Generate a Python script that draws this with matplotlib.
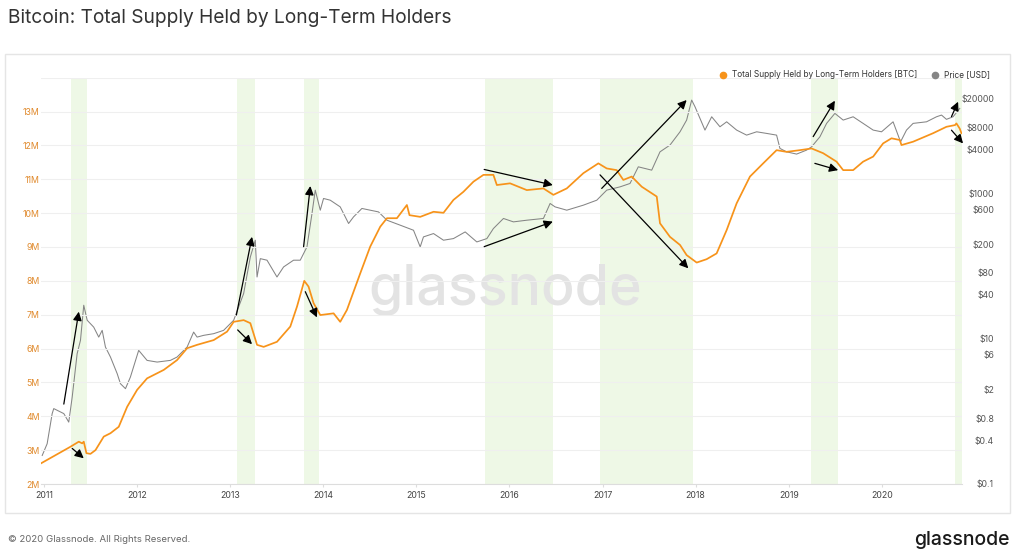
import matplotlib
matplotlib.use('Agg')
import matplotlib.pyplot as plt
from matplotlib.lines import Line2D
from matplotlib.patches import Rectangle
from matplotlib.ticker import NullLocator

plt.rcParams['font.family'] = ['Inter', 'DejaVu Sans']

# long-term holder supply (millions of BTC)
supply_year = [2010.97, 2011.286, 2011.376, 2011.412, 2011.429, 2011.458, 2011.501, 2011.555, 2011.644, 2011.716,
               2011.805, 2011.895, 2012.002, 2012.109, 2012.288, 2012.431, 2012.539, 2012.646, 2012.824, 2012.968,
               2013.039, 2013.146, 2013.218, 2013.290, 2013.361, 2013.504, 2013.647, 2013.719, 2013.797, 2013.843,
               2013.897, 2013.969, 2014.112, 2014.183, 2014.255, 2014.398, 2014.505, 2014.613, 2014.685, 2014.792,
               2014.899, 2014.927, 2015.042, 2015.185, 2015.292, 2015.399, 2015.506, 2015.614, 2015.721, 2015.828,
               2015.865, 2016.007, 2016.187, 2016.365, 2016.472, 2016.616, 2016.794, 2016.955, 2017.045, 2017.152,
               2017.223, 2017.313, 2017.421, 2017.582, 2017.617, 2017.724, 2017.832, 2017.903, 2018.011, 2018.118,
               2018.225, 2018.333, 2018.440, 2018.583, 2018.725, 2018.869, 2018.976, 2019.119, 2019.245, 2019.369,
               2019.513, 2019.584, 2019.691, 2019.798, 2019.906, 2020.013, 2020.103, 2020.192, 2020.210, 2020.335,
               2020.549, 2020.693, 2020.785, 2020.800, 2020.835, 2020.854]
supply_m = [2.61, 3.10, 3.25, 3.20, 3.25, 2.91, 2.89, 3.00, 3.40, 3.50,
            3.69, 4.28, 4.78, 5.12, 5.37, 5.66, 6.01, 6.11, 6.25, 6.50,
            6.79, 6.84, 6.75, 6.11, 6.05, 6.20, 6.65, 7.24, 8.00, 7.83,
            7.34, 6.99, 7.04, 6.79, 7.14, 8.22, 9.01, 9.60, 9.85, 9.85,
            10.24, 9.94, 9.89, 10.04, 10.01, 10.39, 10.63, 10.93, 11.13, 11.13,
            10.83, 10.88, 10.68, 10.73, 10.54, 10.73, 11.18, 11.47, 11.32, 11.27,
            10.98, 11.08, 10.78, 10.49, 9.70, 9.30, 9.06, 8.76, 8.54, 8.64,
            8.81, 9.50, 10.29, 11.08, 11.47, 11.86, 11.81, 11.86, 11.91, 11.77,
            11.52, 11.27, 11.27, 11.52, 11.67, 12.06, 12.21, 12.16, 12.01, 12.11,
            12.36, 12.55, 12.60, 12.65, 12.50, 12.36]

# BTC price (USD)
price_year = [2010.983, 2011.036, 2011.090, 2011.107, 2011.215, 2011.268, 2011.305, 2011.358, 2011.394, 2011.429,
              2011.466, 2011.536, 2011.590, 2011.627, 2011.662, 2011.716, 2011.788, 2011.823, 2011.877, 2011.930,
              2012.019, 2012.109, 2012.217, 2012.359, 2012.431, 2012.539, 2012.609, 2012.646, 2012.717, 2012.824,
              2012.931, 2013.039, 2013.146, 2013.218, 2013.271, 2013.290, 2013.325, 2013.397, 2013.504, 2013.575,
              2013.682, 2013.754, 2013.826, 2013.880, 2013.915, 2013.969, 2014.004, 2014.076, 2014.183, 2014.273,
              2014.326, 2014.416, 2014.505, 2014.594, 2014.685, 2014.827, 2014.970, 2015.042, 2015.077, 2015.185,
              2015.292, 2015.399, 2015.525, 2015.650, 2015.758, 2015.828, 2015.936, 2016.043, 2016.187, 2016.365,
              2016.437, 2016.490, 2016.616, 2016.794, 2016.938, 2017.045, 2017.188, 2017.295, 2017.384, 2017.528,
              2017.617, 2017.724, 2017.832, 2017.903, 2017.957, 2017.993, 2018.100, 2018.172, 2018.261, 2018.333,
              2018.440, 2018.547, 2018.655, 2018.762, 2018.869, 2018.905, 2018.976, 2019.084, 2019.191, 2019.245,
              2019.334, 2019.406, 2019.495, 2019.584, 2019.691, 2019.798, 2019.906, 2019.996, 2020.120, 2020.200,
              2020.264, 2020.335, 2020.479, 2020.586, 2020.640, 2020.693, 2020.764, 2020.836]
price_usd = [0.247, 0.358, 0.93, 1.09, 0.93, 0.71, 1.57, 6.2, 9.5, 28.8,
             17.9, 14.4, 10.5, 13.0, 7.66, 5.58, 3.30, 2.40, 2.05, 2.96,
             6.9, 5.02, 4.76, 5.02, 5.58, 7.66, 12.3, 10.5, 11.1, 11.7,
             13.0, 17.9, 41.7, 133, 226, 70.5, 126, 120, 70.5, 96.9,
             120, 120, 183, 527, 1104, 585, 848, 803, 650, 384,
             473, 618, 585, 554, 426, 364, 310, 183, 251, 279,
             226, 238, 294, 214, 238, 327, 450, 404, 426, 450,
             724, 650, 585, 686, 803, 1104, 1225, 1364, 2311, 2080,
             3715, 4600, 7010, 10160, 19150, 15490, 7400, 11280, 8220, 9620,
             7400, 6310, 7010, 6660, 6310, 4140, 3715, 3460, 3925, 4355,
             5980, 9150, 12560, 10160, 11280, 9150, 7400, 7010, 9620, 5105,
             7400, 9150, 9620, 11280, 11910, 10400, 11280, 14720]

# shaded periods (start year, end year)
band_start = [2011.29, 2013.07, 2013.79, 2015.74, 2016.97, 2019.24, 2020.78]
band_end = [2011.46, 2013.27, 2013.96, 2016.47, 2017.97, 2019.53, 2020.86]

# arrows (year, supply M) tail -> head
arrow_tail = [(2011.215, 4.36), (2011.305, 3.05), (2013.068, 6.99), (2013.082, 6.55),
              (2013.790, 9.01), (2013.808, 7.68), (2015.729, 11.29), (2015.729, 9.01),
              (2016.991, 10.73), (2016.973, 11.13), (2019.262, 12.26), (2019.280, 11.47),
              (2020.747, 12.85), (2020.747, 12.45)]
arrow_head = [(2011.376, 7.09), (2011.429, 2.76), (2013.236, 9.30), (2013.236, 6.13),
              (2013.862, 10.80), (2013.933, 6.92), (2016.466, 10.83), (2016.466, 9.75),
              (2017.903, 13.34), (2017.921, 8.37), (2019.495, 13.32), (2019.530, 11.27),
              (2020.818, 13.29), (2020.871, 12.06)]

supply_ticks = list(range(2, 15))
price_ticks = [0.1, 0.4, 0.8, 2, 6, 10, 40, 80, 200, 600, 1000, 4000, 8000, 20000]
price_labels = ['$0.1', '$0.4', '$0.8', '$2', '$6', '$10', '$40', '$80', '$200', '$600',
                '$1000', '$4000', '$8000', '$20000']
year_ticks = list(range(2011, 2021))

orange = '#f7931a'
grey = '#858585'

fig = plt.figure(figsize=(10.2, 5.57), dpi=100)
ax = fig.add_axes([41 / 1020, 1 - 484 / 557, (962 - 41) / 1020, (484 - 77.7) / 557])
ax2 = ax.twinx()
ax.set_zorder(2)
ax2.set_zorder(1)
ax.patch.set_visible(False)

for s, e in zip(band_start, band_end):
    ax2.axvspan(s, e, color='#eef8e6', lw=0, zorder=0)

ax2.text(0.504, 0.477, 'glassnode', transform=ax2.transAxes, ha='center', va='center',
         fontsize=40, color='#e3e3e3', fontweight='medium', zorder=0.5)

ax2.plot(price_year, price_usd, color=grey, lw=0.75, zorder=2)
ax2.set_yscale('log')
ax2.set_ylim(0.1, 10 ** 4.59)
ax2.yaxis.set_minor_locator(NullLocator())
ax2.set_yticks(price_ticks, price_labels, ha='right')
ax2.tick_params(axis='y', length=0, pad=23, labelsize=6.3, labelcolor='#555555')
for sp in ax2.spines.values():
    sp.set_visible(False)

ax.plot(supply_year, supply_m, color=orange, lw=1.25, zorder=3)
ax.set_ylim(2, 14)
ax.set_xlim(2010.97, 2020.86)
ax.set_yticks(supply_ticks, [f'{v}M' if v < 14 else '' for v in supply_ticks])
ax.tick_params(axis='y', length=0, pad=1, labelsize=6.3, labelcolor='#e0892b')
ax.set_xticks(year_ticks, [str(y) for y in year_ticks])
ax.tick_params(axis='x', length=2.5, color='#dddddd', pad=2.5, labelsize=6.3, labelcolor='#444444')
ax.yaxis.grid(True, color='#efefef', lw=0.8)
for name in ['top', 'right', 'left']:
    ax.spines[name].set_visible(False)
ax.spines['bottom'].set_color('#dddddd')

for tail, head in zip(arrow_tail, arrow_head):
    ax.annotate('', xy=head, xytext=tail, annotation_clip=False,
                arrowprops=dict(arrowstyle='-|>', color='black', lw=0.9,
                                mutation_scale=13, shrinkA=0, shrinkB=0))

handles = [Line2D([], [], marker='o', ls='', color=orange, markersize=4.5,
                  label='Total Supply Held by Long-Term Holders [BTC]'),
           Line2D([], [], marker='o', ls='', color=grey, markersize=4.5, label='Price [USD]')]
fig.legend(handles=handles, loc='center right', bbox_to_anchor=(994 / 1020, 1 - 75 / 557),
           ncol=2, frameon=False, fontsize=6, handletextpad=0.6, columnspacing=1.6,
           borderpad=0, handlelength=1, labelcolor='#333333')

fig.patches.append(Rectangle((5 / 1020, 1 - 513 / 557), 1005 / 1020, 459 / 557,
                             transform=fig.transFigure, fill=False, ec='#e5e5e5', lw=1))

fig.text(8 / 1020, 1 - 18 / 557, 'Bitcoin: Total Supply Held by Long-Term Holders',
         fontsize=13.8, color='#333333', va='center')
fig.text(8 / 1020, 1 - 540 / 557, '© 2020 Glassnode. All Rights Reserved.',
         fontsize=6.9, color='#666666', va='center')
fig.text(1010 / 1020, 1 - 540 / 557, 'glassnode', fontsize=14, color='#1a1a1a',
         ha='right', va='center', fontweight='medium')

fig.savefig('out.png', dpi=100)
